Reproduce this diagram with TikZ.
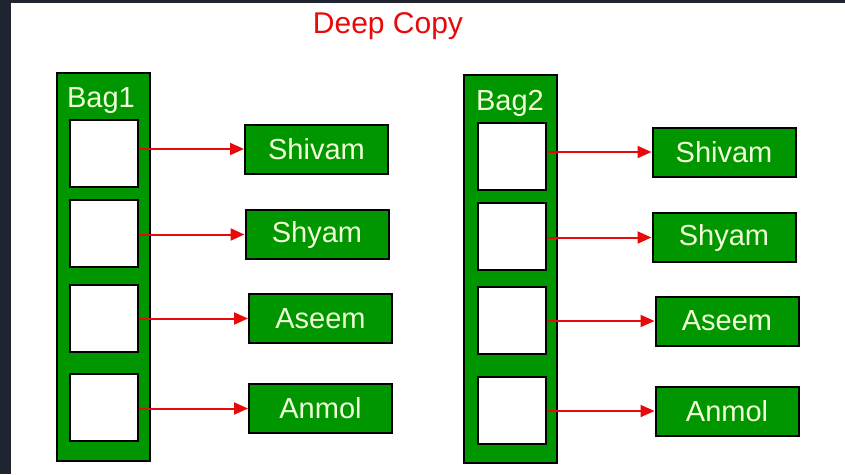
\documentclass[tikz,border=0pt]{standalone}
\usepackage{fontspec}
\setmainfont{Liberation Sans}
\usetikzlibrary{arrows.meta}

\definecolor{bggreen}{RGB}{0,150,0}
\definecolor{labeltext}{RGB}{240,255,215}
\definecolor{framedark}{RGB}{30,36,48}
\definecolor{linkred}{RGB}{232,10,10}

\tikzset{
  bag/.style={draw=black, fill=bggreen, line width=2pt, inner sep=0pt,
    minimum width=93pt, minimum height=388pt},
  slot/.style={draw=black, fill=white, line width=2pt, inner sep=0pt,
    minimum width=68pt, minimum height=67pt},
  item/.style={draw=black, fill=bggreen, line width=2pt, inner sep=0pt,
    minimum width=143pt, minimum height=49pt, text=labeltext,
    font=\fontsize{29}{33}\selectfont},
  baglabel/.style={text=labeltext, inner sep=0pt, font=\fontsize{29}{33}\selectfont},
  link/.style={draw=linkred, line width=2pt,
    -{Triangle[length=14pt,width=12pt]}}
}

\begin{document}
\begin{tikzpicture}[x=1pt, y=-1pt]
  % page area and dark frame strips
  \useasboundingbox (0,0) rectangle (845,474);
  \fill[white] (0,0) rectangle (845,474);
  \fill[framedark] (0,0) rectangle (11,474);
  \fill[framedark] (0,0) rectangle (845,3);

  % title
  \node[text=linkred, inner sep=0pt, font=\fontsize{30}{34}\selectfont] (title) at (388,26) {Deep Copy};

  % first bag
  \node[bag] (bagA) at (103.5,266.5) {};
  \node[baglabel] (bagAlabel) at (101,101) {Bag1};
  \node[slot] (a1) at (104,153.5) {};
  \node[slot] (a2) at (104,233.5) {};
  \node[slot] (a3) at (104,318) {};
  \node[slot] (a4) at (104,407.5) {};

  \node[item] (sa1) at (316.5,149) {Shivam};
  \node[item] (sa2) at (317,234.5) {Shyam};
  \node[item] (sa3) at (320.5,318.5) {Aseem};
  \node[item] (sa4) at (320.5,408.5) {Anmol};

  % second bag
  \node[bag] (bagB) at (510,268.5) {};
  \node[baglabel] (bagBlabel) at (510,103) {Bag2};
  \node[slot] (b1) at (511.5,156.5) {};
  \node[slot] (b2) at (511.5,236.5) {};
  \node[slot] (b3) at (511.5,320.5) {};
  \node[slot] (b4) at (511.5,410.5) {};

  \node[item] (sb1) at (724,152) {Shivam};
  \node[item] (sb2) at (724,237.5) {Shyam};
  \node[item] (sb3) at (727,321) {Aseem};
  \node[item] (sb4) at (727,411) {Anmol};

  % references from each slot to its item
  \foreach \s/\t in {a1/sa1, a2/sa2, a3/sa3, a4/sa4, b1/sb1, b2/sb2, b3/sb3, b4/sb4}
    \draw[link] (\s.east |- \t.west) -- (\t.west);
\end{tikzpicture}
\end{document}
